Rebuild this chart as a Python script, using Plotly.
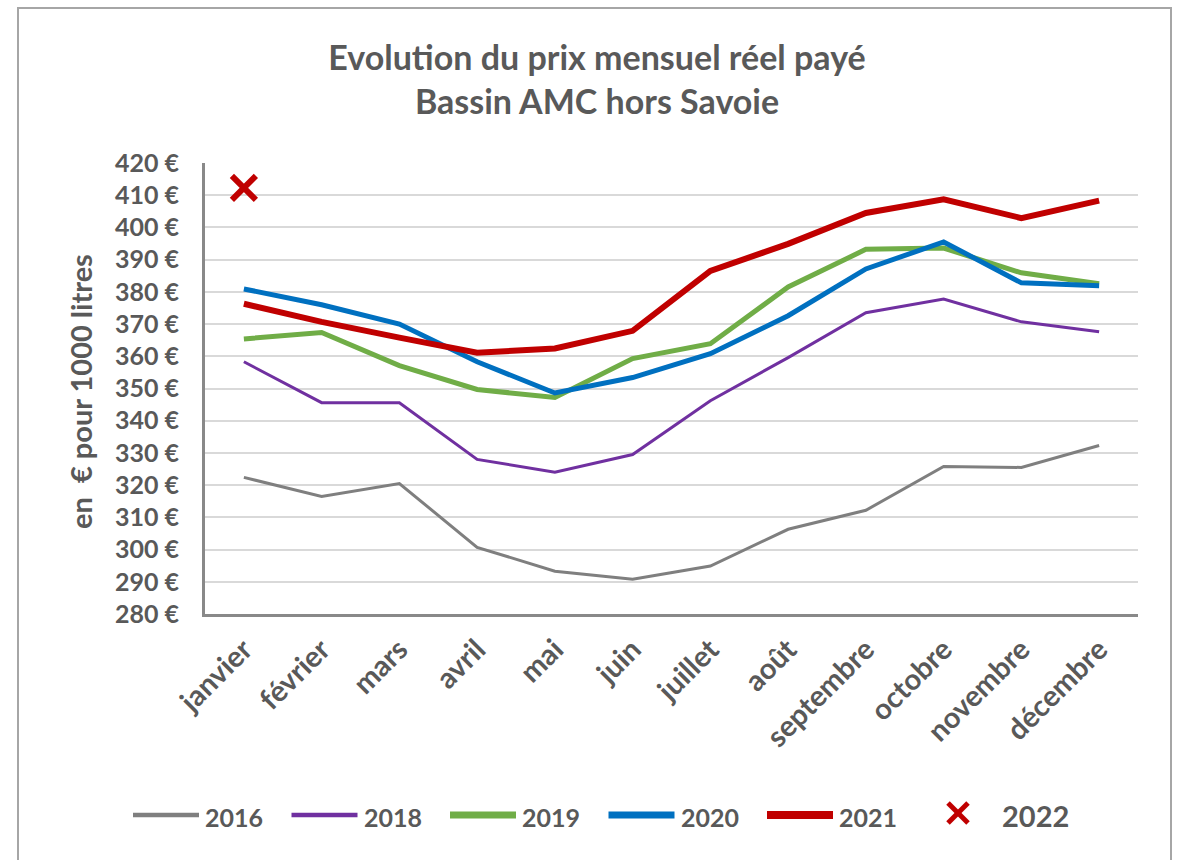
import plotly.graph_objects as go

months = ["janvier", "février", "mars", "avril", "mai", "juin", "juillet",
          "août", "septembre", "octobre", "novembre", "décembre"]
y2016 = [322.4, 316.5, 320.5, 300.7, 293.3, 290.8, 294.9, 306.3, 312.2, 325.8, 325.5, 332.3]
y2018 = [358.3, 345.6, 345.6, 328.0, 324.0, 329.5, 346.2, 359.6, 373.5, 377.8, 370.7, 367.6]
y2019 = [365.4, 367.4, 357.1, 349.7, 347.2, 359.3, 363.9, 381.5, 393.2, 393.6, 385.9, 382.5]
y2020 = [380.9, 376.0, 370.0, 358.3, 348.6, 353.4, 360.8, 372.6, 387.1, 395.5, 382.8, 381.9]
y2021 = [376.3, 370.7, 365.8, 361.1, 362.4, 367.9, 386.5, 394.9, 404.5, 408.7, 402.9, 408.3]
m2022 = ["janvier"]
y2022 = [412.3]
yticks = list(range(280, 421, 10))
yticklabels = [f"{v} €" for v in yticks]

series = [
    ("2016", y2016, "#7f7f7f", 3, 4.5),
    ("2018", y2018, "#7030a0", 3, 4.5),
    ("2019", y2019, "#70ad47", 5, 7),
    ("2020", y2020, "#0070c0", 5, 7),
    ("2021", y2021, "#c00000", 6, 8),
]

TXT = "#595959"
FONT = "Lato"
RED = "#c00000"

L, R, T, B = 205, 42, 163, 246
W, H = 1180, 860
pw, ph = W - L - R, H - T - B


def px_x(p):
    return (p - L) / pw


def px_y(p):
    return (H - B - p) / ph


fig = go.Figure()
for name, ys, col, w, lw in series:
    fig.add_trace(go.Scatter(x=months, y=ys, mode="lines", name=name,
                             line=dict(color=col, width=w), showlegend=False))
fig.add_trace(go.Scatter(x=m2022, y=y2022, mode="markers", name="2022", showlegend=False,
                         marker=dict(symbol="x-thin", size=24, color=RED,
                                     line=dict(color=RED, width=6))))

# manual legend (Excel-style long line samples)
shapes = []
annotations = []
LEG_Y = 815
for i, (name, ys, col, w, lw) in enumerate(series):
    x0 = 133 + 158.5 * i
    x1 = x0 + 66
    shapes.append(dict(type="line", xref="paper", yref="paper",
                       x0=px_x(x0), x1=px_x(x1), y0=px_y(LEG_Y), y1=px_y(LEG_Y),
                       line=dict(color=col, width=lw)))
    annotations.append(dict(xref="paper", yref="paper", x=px_x(x1 + 4), y=px_y(LEG_Y + 2),
                            xanchor="left", yanchor="middle", showarrow=False,
                            text=name, font=dict(family=FONT, size=25, color=TXT, weight="bold")))
cx, cy, hs = 958, 813, 10
for dy in (-hs, hs):
    shapes.append(dict(type="line", xref="paper", yref="paper",
                       x0=px_x(cx - hs), x1=px_x(cx + hs), y0=px_y(cy - dy), y1=px_y(cy + dy),
                       line=dict(color=RED, width=5)))
annotations.append(dict(xref="paper", yref="paper", x=px_x(1000), y=px_y(LEG_Y),
                        xanchor="left", yanchor="middle", showarrow=False,
                        text="2022", font=dict(family=FONT, size=29, color=TXT, weight="bold")))

# y-axis title
annotations.append(dict(xref="paper", yref="paper", x=px_x(80), y=px_y(392),
                        xanchor="center", yanchor="middle", showarrow=False, textangle=-90,
                        text="en  € pour 1000 litres",
                        font=dict(family=FONT, size=29, color=TXT, weight="bold")))

# outer chart border
shapes.append(dict(type="rect", xref="paper", yref="paper",
                   x0=px_x(18), x1=px_x(1171), y0=px_y(8), y1=px_y(880),
                   line=dict(color="#a6a6a6", width=2), layer="below"))

fig.update_layout(
    width=W, height=H,
    margin=dict(l=L, r=R, t=T, b=B, autoexpand=False),
    paper_bgcolor="white", plot_bgcolor="white",
    font=dict(family=FONT, color=TXT),
    title=dict(text="Evolution du prix mensuel réel payé<br>Bassin AMC hors Savoie",
               x=597 / W, xanchor="center", y=1 - 70 / H, yanchor="middle",
               font=dict(family=FONT, size=34, color=TXT, weight="bold")),
    showlegend=False,
    xaxis=dict(type="category", range=[-0.5, 11.5], tickangle=-45, automargin=False,
               tickfont=dict(family=FONT, size=29, color=TXT, weight="bold"),
               showgrid=False, showline=True, linecolor="#898989", linewidth=3,
               ticks="", fixedrange=True, ticklabelstandoff=4),
    yaxis=dict(range=[280, 420], tickvals=yticks, ticktext=yticklabels, automargin=False,
               tickfont=dict(family=FONT, size=25, color=TXT, weight="bold"),
               showgrid=True, gridcolor="#d9d9d9", gridwidth=2,
               showline=True, linecolor="#898989", linewidth=3, ticks="",
               ticklabelstandoff=18, zeroline=False),
    shapes=shapes,
    annotations=annotations,
)

fig.write_html("out.html", config={"displayModeBar": False},
               post_script="document.body.style.margin='0';")
